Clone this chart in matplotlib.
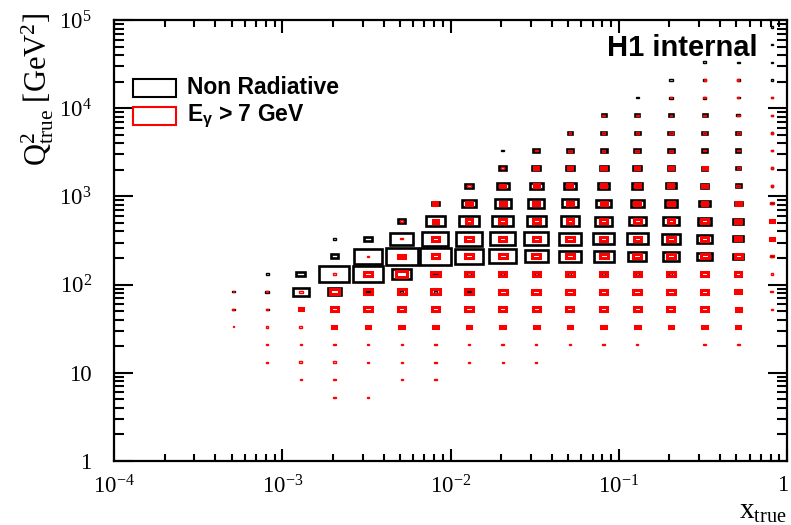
import numpy as np
import matplotlib
matplotlib.use("Agg")
import matplotlib.pyplot as plt
import matplotlib.transforms as mtransforms
from matplotlib.patches import Rectangle
from matplotlib.ticker import FixedLocator, FixedFormatter, LogLocator, NullFormatter

plt.rcParams['font.family'] = ['Liberation Serif', 'DejaVu Serif']
plt.rcParams['mathtext.fontset'] = 'custom'
plt.rcParams['mathtext.rm'] = 'Liberation Serif'
plt.rcParams['mathtext.it'] = 'Liberation Serif:italic'
plt.rcParams['mathtext.bf'] = 'Liberation Sans:bold'

# log10 bin centres (x_true columns, Q2_true rows)
logx_centres = [-3.29, -3.09, -2.89, -2.69, -2.49, -2.29, -2.09, -1.89, -1.69,
                -1.49, -1.29, -1.09, -0.89, -0.69, -0.49, -0.29, -0.09]
logq2_centres = [4.92, 4.72, 4.52, 4.32, 4.12, 3.92, 3.72, 3.52, 3.32, 3.12, 2.92,
                 2.72, 2.52, 2.32, 2.12, 1.92, 1.72, 1.52, 1.32, 1.12, 0.92, 0.72]
bin_w = 0.2

# box side as % of the bin, rows from top (highest Q2) to bottom
nonrad = [
    [0, 0, 0, 0, 0, 0, 0, 0, 0, 0, 0, 0, 0, 0, 0, 0, 8],
    [0, 0, 0, 0, 0, 0, 0, 0, 0, 0, 0, 0, 0, 0, 0, 0, 8],
    [0, 0, 0, 0, 0, 0, 0, 0, 0, 0, 0, 0, 0, 0, 10, 8, 8],
    [0, 0, 0, 0, 0, 0, 0, 0, 0, 0, 0, 0, 0, 10, 10, 9, 8],
    [0, 0, 0, 0, 0, 0, 0, 0, 0, 0, 0, 0, 10, 11, 11, 10, 8],
    [0, 0, 0, 0, 0, 0, 0, 0, 0, 0, 0, 12, 13, 13, 12, 11, 8],
    [0, 0, 0, 0, 0, 0, 0, 0, 0, 0, 14, 15, 15, 15, 14, 12, 8],
    [0, 0, 0, 0, 0, 0, 0, 0, 8, 17, 18, 18, 17, 16, 14, 12, 8],
    [0, 0, 0, 0, 0, 0, 0, 0, 20, 23, 24, 24, 23, 20, 17, 13, 8],
    [0, 0, 0, 0, 0, 0, 0, 22, 35, 37, 35, 33, 31, 28, 23, 15, 8],
    [0, 0, 0, 0, 0, 0, 22, 42, 47, 47, 45, 43, 40, 37, 33, 22, 9],
    [0, 0, 0, 0, 0, 22, 57, 59, 61, 57, 55, 52, 49, 47, 39, 29, 10],
    [0, 0, 0, 9, 25, 67, 77, 77, 74, 71, 67, 64, 61, 55, 47, 31, 10],
    [0, 0, 0, 22, 85, 94, 94, 85, 79, 67, 63, 59, 53, 49, 43, 31, 9],
    [0, 9, 27, 89, 87, 57, 12, 10, 10, 10, 9, 9, 9, 9, 0, 0, 0],
    [7, 10, 47, 39, 12, 10, 10, 9, 0, 0, 0, 0, 0, 0, 0, 0, 0],
    [7, 9, 0, 0, 0, 0, 0, 0, 0, 0, 0, 0, 0, 0, 0, 0, 0],
    [0, 0, 0, 0, 0, 0, 0, 0, 0, 0, 0, 0, 0, 0, 0, 0, 0],
    [0, 0, 0, 0, 0, 0, 0, 0, 0, 0, 0, 0, 0, 0, 0, 0, 0],
    [0, 0, 0, 0, 0, 0, 0, 0, 0, 0, 0, 0, 0, 0, 0, 0, 0],
    [0, 0, 0, 0, 0, 0, 0, 0, 0, 0, 0, 0, 0, 0, 0, 0, 0],
    [0, 0, 0, 0, 0, 0, 0, 0, 0, 0, 0, 0, 0, 0, 0, 0, 0],
]
rad = [
    [0, 0, 0, 0, 0, 0, 0, 0, 0, 0, 0, 0, 0, 0, 0, 0, 0],
    [0, 0, 0, 0, 0, 0, 0, 0, 0, 0, 0, 0, 0, 0, 0, 0, 0],
    [0, 0, 0, 0, 0, 0, 0, 0, 0, 0, 0, 0, 0, 0, 0, 0, 0],
    [0, 0, 0, 0, 0, 0, 0, 0, 0, 0, 0, 0, 0, 0, 6, 6, 0],
    [0, 0, 0, 0, 0, 0, 0, 0, 0, 0, 0, 0, 0, 7, 7, 7, 6],
    [0, 0, 0, 0, 0, 0, 0, 0, 0, 0, 0, 8, 8, 8, 8, 8, 7],
    [0, 0, 0, 0, 0, 0, 0, 0, 0, 0, 8, 10, 10, 10, 10, 8, 7],
    [0, 0, 0, 0, 0, 0, 0, 0, 0, 10, 11, 11, 11, 11, 10, 8, 7],
    [0, 0, 0, 0, 0, 0, 0, 0, 10, 12, 13, 13, 13, 13, 12, 10, 8],
    [0, 0, 0, 0, 0, 0, 0, 11, 14, 15, 15, 15, 15, 15, 14, 11, 8],
    [0, 0, 0, 0, 0, 0, 12, 15, 17, 18, 18, 18, 18, 17, 17, 14, 11],
    [0, 0, 0, 0, 0, 8, 16, 20, 20, 20, 20, 20, 20, 20, 19, 17, 12],
    [0, 0, 0, 0, 0, 8, 20, 22, 22, 22, 22, 22, 22, 22, 22, 19, 12],
    [0, 0, 0, 0, 8, 20, 22, 24, 24, 24, 24, 24, 24, 24, 24, 22, 10],
    [0, 0, 0, 9, 22, 32, 28, 26, 22, 22, 22, 22, 22, 22, 22, 18, 8],
    [5, 8, 11, 25, 25, 25, 25, 25, 23, 23, 23, 23, 23, 23, 22, 18, 9],
    [6, 8, 12, 21, 22, 21, 21, 21, 21, 21, 21, 21, 21, 21, 21, 16, 8],
    [5, 7, 9, 12, 14, 14, 15, 14, 14, 14, 14, 14, 14, 14, 14, 12, 0],
    [0, 7, 7, 9, 7, 7, 7, 7, 7, 7, 7, 7, 7, 0, 9, 9, 0],
    [0, 7, 9, 9, 7, 7, 7, 7, 6, 6, 0, 0, 0, 0, 0, 0, 0],
    [0, 0, 7, 7, 0, 7, 7, 0, 0, 0, 0, 0, 0, 0, 0, 0, 0],
    [0, 0, 0, 7, 7, 0, 0, 0, 0, 0, 0, 0, 0, 0, 0, 0, 0],
]

xtick_vals = [1e-4, 1e-3, 1e-2, 1e-1, 1]
xtick_labels = [r'$10^{-4}$', r'$10^{-3}$', r'$10^{-2}$', r'$10^{-1}$', '1']
ytick_vals = [1, 10, 1e2, 1e3, 1e4, 1e5]
ytick_labels = ['1', '10', r'$10^{2}$', r'$10^{3}$', r'$10^{4}$', r'$10^{5}$']

W, H = 791, 525
fig = plt.figure(figsize=(W / 100, H / 100), dpi=100)
ax = fig.add_axes([114 / W, 1 - 461 / H, 673 / W, 441 / H])
ax.set_xscale('log')
ax.set_yscale('log')
ax.set_xlim(1e-4, 1)
ax.set_ylim(1, 1e5)


def draw_boxes(grid, colour, z, lw_big):
    for r, row in enumerate(grid):
        for c, s in enumerate(row):
            if s <= 0:
                continue
            half = 0.5 * bin_w * s / 100.0
            lx, ly = logx_centres[c], logq2_centres[r]
            x0, x1 = 10 ** (lx - half), 10 ** (lx + half)
            y0, y1 = 10 ** (ly - half), 10 ** (ly + half)
            lw = lw_big if s >= 12 else 1.0
            ax.add_patch(Rectangle((x0, y0), x1 - x0, y1 - y0, fill=False,
                                   edgecolor=colour, lw=lw, zorder=z))


draw_boxes(nonrad, 'black', 3, 1.9)
draw_boxes(rad, '#ff0000', 4, 2.2)

ax.xaxis.set_major_locator(FixedLocator(xtick_vals))
ax.xaxis.set_major_formatter(FixedFormatter(xtick_labels))
ax.yaxis.set_major_locator(FixedLocator(ytick_vals))
ax.yaxis.set_major_formatter(FixedFormatter(ytick_labels))
ax.xaxis.set_minor_locator(LogLocator(base=10, subs=np.arange(2, 10), numticks=20))
ax.yaxis.set_minor_locator(LogLocator(base=10, subs=np.arange(2, 10), numticks=20))
ax.xaxis.set_minor_formatter(NullFormatter())
ax.yaxis.set_minor_formatter(NullFormatter())

ax.tick_params(which='both', direction='in', top=True, right=True, width=1.5,
               labelsize=16.5)
ax.tick_params(axis='x', which='major', length=9, pad=10)
ax.tick_params(axis='x', which='minor', length=4.8)
ax.tick_params(axis='y', which='major', length=14, pad=16)
ax.tick_params(axis='y', which='minor', length=7)
for sp in ax.spines.values():
    sp.set_linewidth(1.6)

# keep the last x label ("1") inside the canvas
last = ax.get_xticklabels()[-1]
last.set_transform(last.get_transform() +
                   mtransforms.ScaledTranslation(-4 / 100, 0, fig.dpi_scale_trans))

# axis titles
fig.text(38 / W, 1 - 13 / H, r'$\mathrm{Q}^{2}_{\mathrm{true}}$ [GeV$^{2}$]',
         rotation=90, ha='center', va='top', fontsize=22)
fig.text(787 / W, 1 - 499 / H, r'$\mathrm{x}_{\mathrm{true}}$',
         ha='right', va='top', fontsize=21)

# legend
fig.patches.append(Rectangle((133 / W, 1 - 97 / H), 43 / W, 18 / H, fill=False,
                             edgecolor='black', lw=1.5, transform=fig.transFigure))
fig.patches.append(Rectangle((133 / W, 1 - 125 / H), 43 / W, 18 / H, fill=False,
                             edgecolor='#ff0000', lw=1.5, transform=fig.transFigure))
fig.text(187 / W, 1 - 88 / H, 'Non Radiative', family='Liberation Sans',
         weight='bold', fontsize=16.5, va='center', ha='left')
fig.text(187 / W, 1 - 116 / H, r'E$_{\mathbf{γ}}$ > 7 GeV', family='Liberation Sans',
         weight='bold', fontsize=16.5, va='center', ha='left')

fig.text(607 / W, 1 - 48 / H, 'H1 internal', family='Liberation Sans',
         weight='bold', fontsize=21, va='center', ha='left')

fig.savefig('out.png', dpi=100)
